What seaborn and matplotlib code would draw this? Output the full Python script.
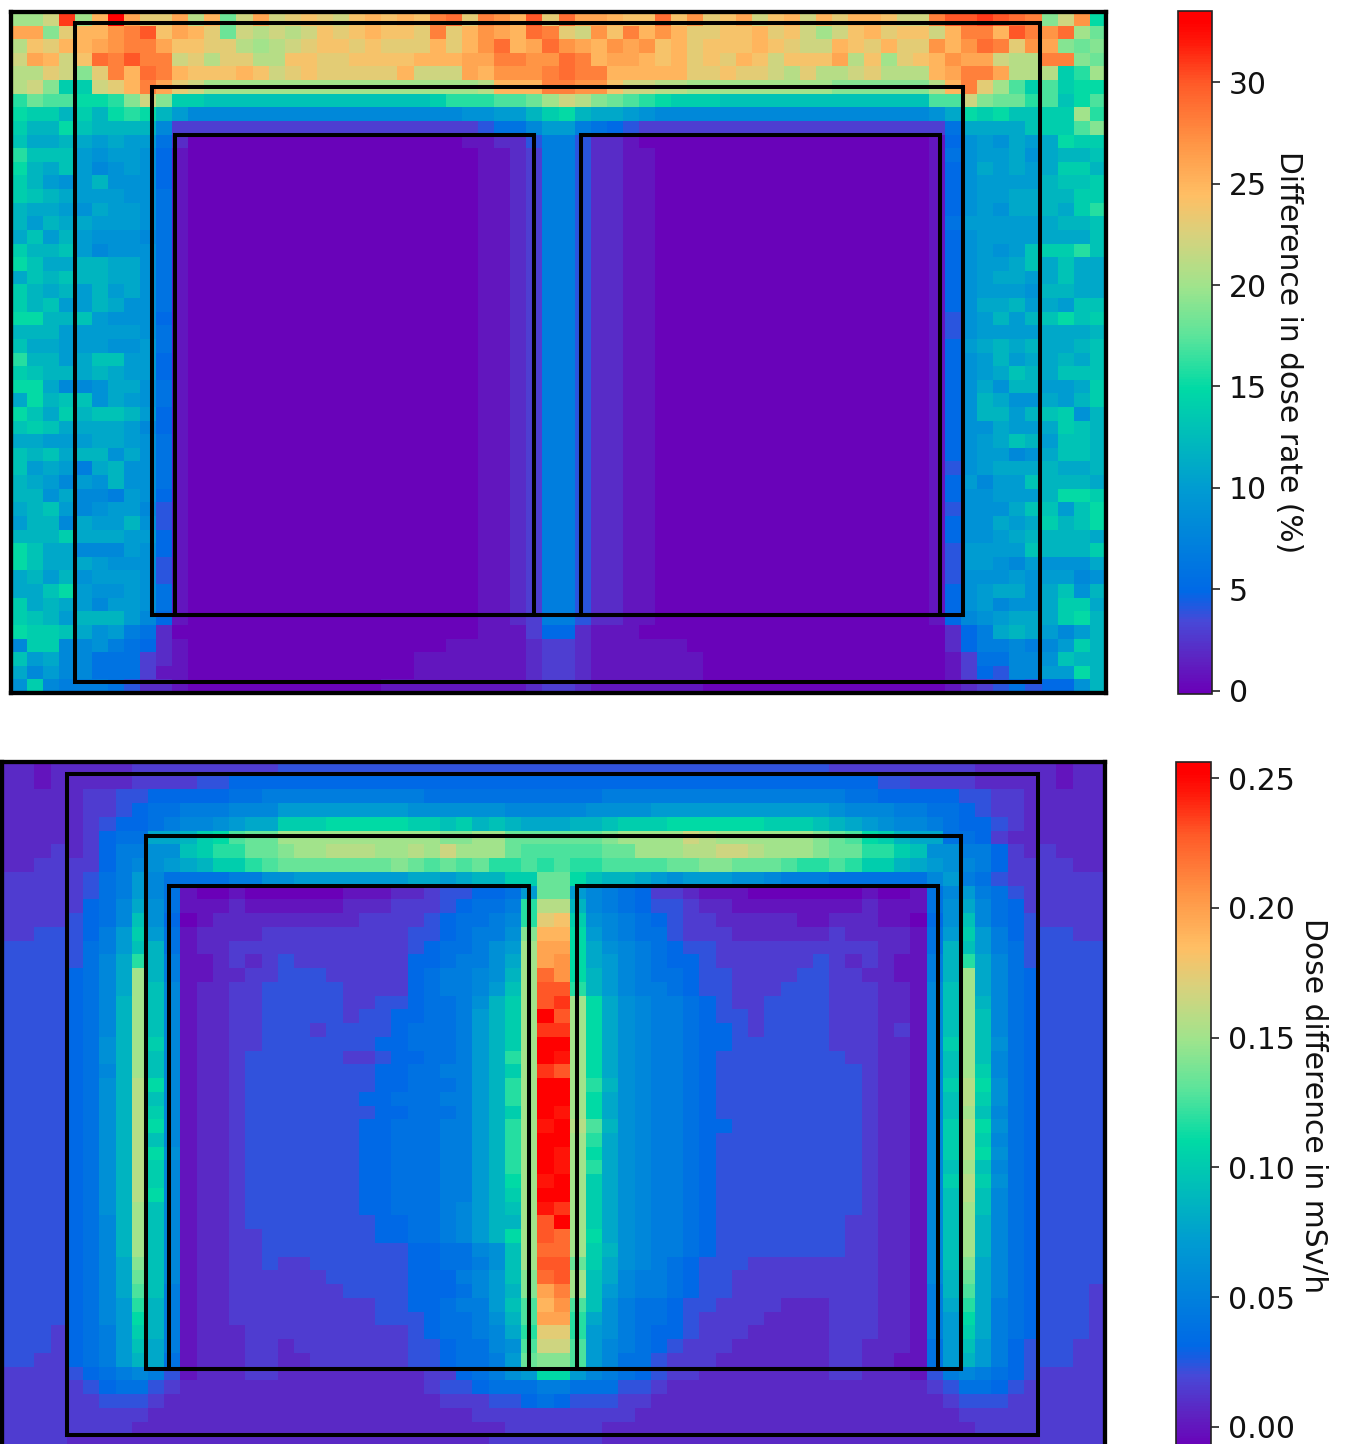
import sys
import numpy as np
import pandas as pd
import matplotlib
matplotlib.use("Agg")
import matplotlib.pyplot as plt
from matplotlib.colors import LinearSegmentedColormap
from matplotlib.patches import Rectangle
import seaborn as sns

W, H = 1347, 1444
N_COLS = 68

# Each character is one heatmap cell, on a base-36 colour level
# (level 0..33). Groups of 17 columns are separated by spaces.
TOP_HEAD = [
 "kkmvkpxqnnqlpimqm nonmopopostnsrpun tqqpootornoqmopmp nppommsuuvutsjmrf",
 "qqjnpprsuoqpnimlm lmonopoonsnprqpts nmrosprpnnoopnomk mopnoompsspusrtki",
 "lonppqrssqoonnlkl mnoononnnpnprtpqt rqprqropnoooponmm ponpnnrprtsnrqjij",
 "mqpmotsussmnlnnll oonnoooopppqqssrr tspqqpopnonpomooo qloknoprqqmllssji",
 "llnmjnsptspooopom nonnnnnpmmmqprrrs tsspppppnnonnmlnl lmnlllpqssqlllegk",
 "lmjeemnpsqnmkkkkk kkkkkkkkkkkklppps srrommllkkkkkkkkk jjjjjjlpsnkheheff",
 "gihhffgjmjeeddddd dddddddddeggghhik mljihgfeeeddddddd ddddddhhmjiighdfh",
 "feececfgfca888888 8888888888899aace fcbba988888888888 8888889bfefddeekg",
 "eccfdcccc83333333 3333333333334668a a7654333333333333 33333336bbbbdeehj",
 "dbbcbabaa62000000 00000000000112247 74221000000000000 000000159a9babfee",
]
TOP_SIDE_L = [
 "gddda9aa95", "fcbda89a95", "eca9ac9995", "edcbaaa996", "cbba9baa96", "cacbbaaa96", "bdaca99986",
 "eccda89996", "fdbbccbb96", "bdcdccbb96", "ecbcacab96", "ecdaacb996", "ffccda9995", "cccaaaaa96",
 "dbbaaa99a6", "gccabddaa5", "edccbcbaa5", "ffb889bb96", "bfcdd9ba96", "fdbecddca5", "dedbbbba85",
 "bbaaabba96", "dcdbcc9b96", "daba7bc996", "cba8a9c996", "cc9b887a95", "bcda89aa84", "acc8baac94",
 "cccebbbaa5", "fdbb888a95", "fdbbba9994", "bcac9aaa94", "bbdfa99a96", "ebcba8aa96", "edcaccca85",
]
TOP_CORE = "1000000 00000000000011237 74221100000000000 0000001"
TOP_SIDE_R = [
 "69aab9bccd", "59bababeec", "59aaaacdde", "59aabbccee", "59a9bbcbeg", "6aaaaabccd", "59aaaabbbd",
 "59a9adeegd", "59aabdbdbb", "59abbabdbb", "59aaa9ccbb", "59bbcabadd", "49acacdfde", "49aaaabbbc",
 "5abcbcbbcd", "59acabbcbd", "59abdcbddd", "59b9ccaabe", "59cb99bace", "59ccacde9c", "599baabedc",
 "59abdcaddc", "59aa89bddc", "49abbbcbbc", "5a8aadcccb", "599aaacffe", "4999bddadf", "599babecdf",
 "599abccccb", "4aaaadccce", "4aa98a999b", "4999a9aa89", "59abb9bd9c", "59a899beeb", "589abbbefc",
]
TOP_FOOT = [
 "feedb9a7620000000 00000000000011135 52111000000000000 0000000257bcba8ac",
 "8ee88976521000000 00000000001111123 32111111000000000 00000002577878aec",
 "dab88666321000000 00000000111111123 32111111100000000 00000001366889dcc",
 "b8a88666311000000 00000000111111123 32111111100000000 0000000135488aafc",
 "9e877764221000000 00000011111111123 32111111100000000 0000000123464559c",
]
BOTTOM_ROWS = [
 "22122222333333333 44444444444444444 44444444444444444 33333333322222122",
 "22122222333344555 55555555555555555 55555555555555555 55544333322222122",
 "22222334455555667 77777777766666666 66677777777777777 76655555443322222",
 "22222334566777888 aaaaaaaa999999888 889999aaaaaaaaaaa 98887766543322222",
 "22222345567889abb eeefffffeedecdcbb bccdeeeffffffeeed cba98876554322222",
 "222223566bbcefhii kkkkkkkkkkjjkkiii iiijkkkkmlkkkkkkj ihfecbb6653222222",
 "22232357799deggii jkklllkklkmkkkihh hhhiikkkllmmlkkkj iigged99775323222",
 "2233335789abceegh iiiiiiijihihigghg hgghhhhiijjiiihgg hgeecba9875333322",
 "33333467a86666779 9aaaaaaabbabcceei ifdccba9aaa998777 6666668a764333333",
 "33333467a86100100 000011122344556ai ia876533211100000 00100168a76433333",
 "33333568b96111211 111122233345667gl lc876544322111111 11211169b86533333",
 "33334568d95012222 222223333456678gn oe987654332222211 22211059d86543333",
 "3344457aea6122223 33333333445677 9jp pfa87664333222222 3222216aea7544433",
 "4444467adc6122333 33333333456679akq qfb98765443333333 3332216cda7644444",
 "4444468bgc7112323 43333333556779bkq rfba8765543333334 3232117cgb8644444",
 "4444568bkc7112233 44433333567789ckt rfca8766544333344 3322117ckb8654444",
 "4444568bkd8122334 4444333356778adku ugca8776544333444 3332218dkb8654444",
 "4444568ckd8122334 4444334456679ceku vkfb9877654334444 3332218dkc8654444",
 "4444568ckd8122334 444434455667acekx ukfb9877654434444 3332218dkd8654444",
 "4444568ckd8122334 443444456667acekv vkfb9877655434444 3332318dkd8654444",
 "4444569cke8122334 444444556667acekx xkfb9877655444444 3332218ekd9654444",
 "4444569ckd8122344 444433455667acgkx wkfb9877654444444 4332218dkd8654444",
 "4444568ckd8122344 444444556677acekv ukfb9877654444444 4432218dke8654444",
 "4444569clf8122344 444444556667acgkx xkgc9877654444444 4432218elf9654444",
 "4444569cld8122344 444445566677acgkx xkfb9877654444444 4432218dle9654444",
 "4444569cle8122344 444444556667acekx wkfb9877654444444 4432218dkd8654444",
 "4444569clf8122344 444445566677acgkw xlhc9877655444444 4432218elf9654444",
 "4444569cld8122344 444445566677acgkx xkgb9877654444444 4432218ele8654444",
 "4444569clf9122344 444445566677acgkx wkfb9877654444444 4432218elf9654444",
 "4444569cle8122344 444445566677acgkx wkgb9877654444444 4432218dkd8654444",
 "4444569cle8122344 444445566677acfkw xkeb9877654444444 4432218ele9654444",
 "4444569clf8122344 444445566677acekx xkeb9877654444444 4432218dld8654444",
 "4444569ckd8122344 444445566678acdkw vkeb9877654444444 4432218dkd8654444",
 "4444568ckd8122344 444444556678accku xkeb9877654444444 4332218dkc8654444",
 "4444568ckd8122334 444444556678acfku tkfb9877654444444 4332218dkc8654444",
 "4444568ckd8122334 44444444556689dkt tkec9877654444444 4332218dkc8654444",
 "4444568bjd8122334 33444444556679dku uieb9876544433333 3332218djb8654444",
 "4444568bid8122333 3334444455578adjt ukdb8776544333333 3332218cib8654444",
 "4444568bhd7122333 3333444455568acjq skda8776544333333 3332217chb8654443",
 "4444568agc7122333 3333334455677adhp rhd97665443333222 3332217bgb7654443",
 "4444568afc7122333 3333334445 6679chq qgb97665433332222 3332217afb7654443",
 "4443567aec7122233 33333333456678bgn nga97655433322222 3332217aeb7654443",
 "4443567adb7122233 233333334456689hm mha87654333222222 3322216ada7544433",
 "4433567acb6122233 22333333445667aij jha86643332222222 3322116aca7544433",
 "33334567874122233 222222222335679af fa876543322222222 33222147876543333",
 "33333456643222222 22222222234456667 76664432222222222 22222234665433333",
 "33333344432222222 22222222223334456 54443322222222222 22222223444333333",
 "33333333322222222 22222222222233333 33333222222222222 22222222333333333",
 "33333333222222222 22222222222222333 33322222222222222 22222222233333333",
 "33332222222222222 22222222222223333 33322222222222222 22222222222223333",
]

# Scale between a colour level and each panel's physical value
TOP_UNIT = 1.0
BOTTOM_UNIT, BOTTOM_OFFSET = 0.00792, -0.0085
TOP_RANGE = (-0.15, 33.5)
BOTTOM_RANGE = (-0.0085, 0.2562)
TOP_TICKS = [0, 5, 10, 15, 20, 25, 30]
BOTTOM_TICKS = [0.00, 0.05, 0.10, 0.15, 0.20, 0.25]
TOP_LABEL = "Difference in dose rate (%)"
BOTTOM_LABEL = "Dose difference in mSv/h"

# Overlay outlines in cell units (x0, x1, y0, y1)
TOP_BOXES = [(3.97, 63.9, 0.8, 49.2), (8.75, 59.15, 5.5, 44.3), (10.2, 32.5, 9.05, 44.3), (35.4, 57.7, 9.05, 44.3)]
BOTTOM_BOXES = [(4.0, 63.87, 0.9, 49.0), (8.88, 59.1, 5.4, 44.17), (10.3, 32.5, 9.05, 44.17), (35.45, 57.7, 9.05, 44.17)]

COLOR_NODES = [
    (0.0, (106, 0, 184)), (1.5, (95, 32, 192)), (3.5, (72, 72, 215)), (4.4, (25, 92, 226)),
    (5.0, (0, 105, 230)), (10.0, (0, 155, 210)), (15.0, (0, 218, 165)), (17.5, (90, 228, 155)),
    (20.0, (160, 228, 140)), (22.5, (215, 210, 125)), (24.5, (255, 190, 100)), (27.0, (255, 150, 70)),
    (30.0, (255, 90, 40)), (32.0, (255, 25, 10)), (33.0, (255, 0, 0)), (33.5, (255, 0, 0)),
]


def decode(rows, name):
    out = []
    for i, row in enumerate(rows):
        cells = row.replace(" ", "")
        if len(cells) != N_COLS:
            print(name, i, len(cells), file=sys.stderr)
        cells = cells.ljust(N_COLS, cells[-1])[:N_COLS]
        out.append([int(c, 36) for c in cells])
    return np.array(out, dtype=float)


top_rows = TOP_HEAD + [l + TOP_CORE + r for l, r in zip(TOP_SIDE_L, TOP_SIDE_R)] + TOP_FOOT
top_df = pd.DataFrame(decode(top_rows, "top") * TOP_UNIT)
bottom_df = pd.DataFrame(decode(BOTTOM_ROWS, "bottom") * BOTTOM_UNIT + BOTTOM_OFFSET)

cmap = LinearSegmentedColormap.from_list(
    "dose", [(v / 33.5, tuple(c / 255 for c in rgb)) for v, rgb in COLOR_NODES], N=256)

sns.set_theme(style="white")
plt.rcParams["font.family"] = ["DejaVu Sans"]

fig = plt.figure(figsize=(W / 100, H / 100), dpi=100, facecolor="white")


def axes_px(x0, x1, y0, y1):
    return fig.add_axes([x0 / W, 1 - y1 / H, (x1 - x0) / W, (y1 - y0) / H])


def panel(df, rng, ticks, fmt, label, boxes, frame, bar, labelpad):
    ax = axes_px(*frame)
    cax = axes_px(*bar)
    sns.heatmap(df, ax=ax, cbar_ax=cax, cmap=cmap, vmin=rng[0], vmax=rng[1],
                xticklabels=False, yticklabels=False, rasterized=True)
    ax.set_xlabel("")
    ax.set_ylabel("")
    for s in ax.spines.values():
        s.set_visible(True)
        s.set_linewidth(3.1)
        s.set_color("black")
    for x0, x1, y0, y1 in boxes:
        ax.add_patch(Rectangle((x0, y0), x1 - x0, y1 - y0, fill=False, ec="black", lw=2.9, zorder=5))
    cb = ax.collections[0].colorbar
    cb.set_ticks(ticks)
    cb.set_ticklabels([fmt.format(t) for t in ticks])
    cb.ax.tick_params(labelsize=21.5, length=6, width=1.2, color="#222222", labelcolor="#111111", pad=6)
    cb.outline.set_visible(True)
    cb.outline.set_linewidth(1.2)
    cb.outline.set_edgecolor("#222222")
    cb.set_label(label, rotation=270, fontsize=21.4, labelpad=labelpad, color="#111111")
    return ax


panel(top_df, TOP_RANGE, TOP_TICKS, "{:d}", TOP_LABEL, TOP_BOXES,
      (11, 1106, 12, 693), (1178, 1212, 11, 694), 26)
panel(bottom_df, BOTTOM_RANGE, BOTTOM_TICKS, "{:.2f}", BOTTOM_LABEL, BOTTOM_BOXES,
      (2, 1105, 762, 1449), (1176, 1211, 762, 1449), 24)

fig.savefig("out.png", dpi=100, facecolor="white")
